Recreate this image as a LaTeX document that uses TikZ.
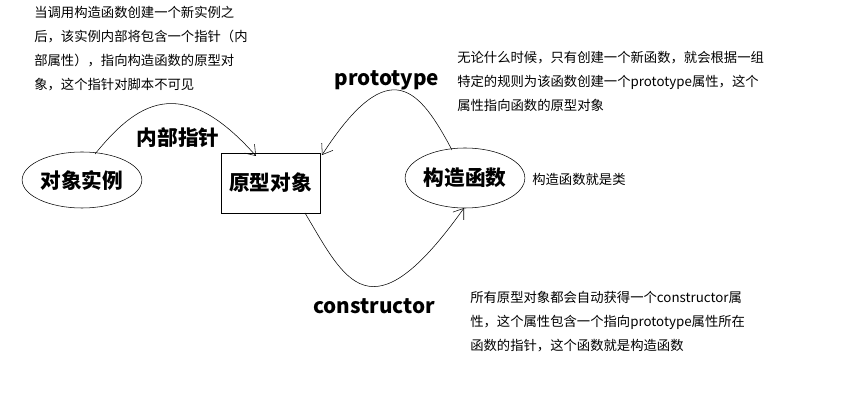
\documentclass[tikz,border=0pt]{standalone}
\usepackage{fontspec}
\setmainfont{Noto Sans CJK SC}
\usetikzlibrary{shapes.geometric,arrows.meta}
\begin{document}
\begin{tikzpicture}[x=0.75pt,y=0.75pt,yscale=-1,xscale=1]
\tikzset{big/.style={font=\bfseries\fontsize{15.5}{17}\selectfont,inner sep=0.75pt},
  note/.style={font=\fontsize{10}{18}\selectfont,anchor=north west,align=left,inner sep=0.75pt},
  ptr/.style={-{Straight Barb[length=7pt,width=10pt]}}}
\useasboundingbox (0,0) rectangle (864,409);

% Nodes
\node (obj) [big,draw,ellipse,minimum width=85.5pt,minimum height=42pt] at (82,180) {对象实例};
\node (proto) [big,draw,rectangle,minimum width=74pt,minimum height=45pt] at (270.5,183) {原型对象};
\node (ctor) [big,draw,ellipse,minimum width=78pt,minimum height=45pt] at (465,178) {构造函数};
\coordinate (pin) at (256,156);

% Arrows
\draw [ptr] (95,154) .. controls (135,105) and (180,70) .. (pin);
\draw [ptr] (452,150) .. controls (420,90) and (390,50) .. (322,155);
\draw [ptr] (305,213) .. controls (345,280) and (370,340) .. (464,208);

% Labels
\node (lin) [big] at (178,138) {内部指针};
\node (lpt) [big] at (387,80) {prototype};
\node (lct) [big] at (374,306) {constructor};
\node (n1) [note] at (33,5) {当调用构造函数创建一个新实例之\\后，该实例内部将包含一个指针（内\\部属性），指向构造函数的原型对\\象，这个指针对脚本不可见};
\node (n2) [note] at (456,50) {无论什么时候，只有创建一个新函数，就会根据一组\\特定的规则为该函数创建一个prototype属性，这个\\属性指向函数的原型对象};
\node (n3) [note] at (531,172) {构造函数就是类};
\node (n4) [note] at (469,290) {所有原型对象都会自动获得一个constructor属\\性，这个属性包含一个指向prototype属性所在\\函数的指针，这个函数就是构造函数};
\end{tikzpicture}
\end{document}
